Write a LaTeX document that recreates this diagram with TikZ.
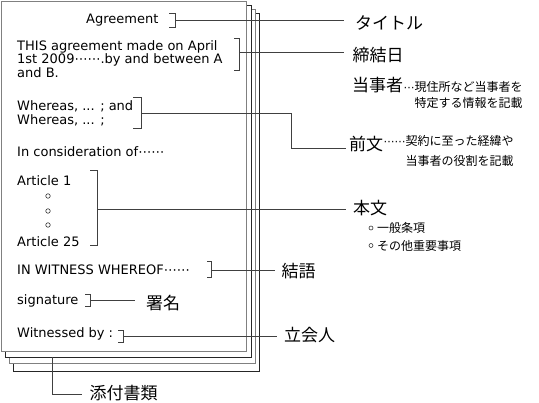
\documentclass[tikz,border=0pt]{standalone}
\usepackage{fontspec}
\setmainfont{Noto Sans CJK JP}
\newfontfamily\latinfont{DejaVu Sans}
\newcommand{\mdots}{{\latinfont ⋯⋯}}
\begin{document}
\begin{tikzpicture}[x=1pt,y=-1pt,
  pageblack/.style={draw=black!85,line width=0.8pt,fill=white},
  pagegray/.style={draw=black!50,line width=0.8pt,fill=white},
  brk/.style={draw=black!75,line width=0.9pt},
  conn/.style={draw=black!75,line width=0.8pt},
  txt/.style={anchor=base west,inner sep=0pt,font=\latinfont\fontsize{13}{15}\selectfont},
  lab/.style={anchor=west,inner sep=0pt,font=\fontsize{17}{19}\selectfont},
  small/.style={inner sep=0pt,font=\fontsize{12}{14}\selectfont},
  dot/.style={circle,draw=black!80,line width=0.6pt,inner sep=0pt,minimum size=4.5pt}]
\useasboundingbox (0,0) rectangle (539,403);
% page stack
\draw[pageblack] (13,13) rectangle (259,371);
\draw[pagegray]  (9,9) rectangle (255,363);
\draw[pageblack] (5,5) rectangle (251,357);
\draw[pagegray]  (1,1) rectangle (246,351);
% document texts
\node[txt] (agr) at (86,24) {Agreement};
\node[txt] (this1) at (17,50.5) {THIS agreement made on April};
\node[txt] (this2) at (17,64) {1st 2009\mdots.by and between A};
\node[txt] (this3) at (17,77.5) {and B.};
\node[txt] (wh1) at (17,111) {Whereas, ... ; and};
\node[txt] (wh2) at (17,124.5) {Whereas, ... ;};
\node[txt] (cons) at (17,157) {In consideration of\mdots};
\node[txt] (art1) at (17,186) {Article 1};
\node[dot] (d1) at (48,196) {};
\node[dot] (d2) at (48,211) {};
\node[dot] (d3) at (48,225) {};
\node[txt] (art25) at (17,246.5) {Article 25};
\node[txt] (inw) at (17,274.5) {IN WITNESS WHEREOF\mdots};
\node[txt] (sig) at (17,305) {signature};
\node[txt] (wit) at (17,338) {Witnessed by :};
% brackets
\draw[brk] (169,13) -- (175.5,13) -- (175.5,27) -- (169,27);
\coordinate (bT) at (175.5,20);
\draw[brk] (234,38) -- (239.5,38) -- (239.5,70) -- (234,70);
\coordinate (bD) at (239.5,52.7);
\draw[brk] (133,97) -- (141,97) -- (141,128) -- (133,128);
\coordinate (bW) at (141,113);
\draw[brk] (90,170) -- (97,170) -- (97,245) -- (90,245);
\coordinate (bA) at (97,209);
\draw[brk] (207,261) -- (211,261) -- (211,277) -- (207,277);
\coordinate (bI) at (211,270.5);
\draw[brk] (85,294) -- (90,294) -- (90,306) -- (85,306);
\coordinate (bS) at (90,300);
\draw[brk] (118,330) -- (123,330) -- (123,342) -- (118,342);
\coordinate (bV) at (123,336);
\coordinate (bP) at (52,357);
% labels
\node[lab] (title) at (355,22.5) {タイトル};
\node[lab] (date) at (352.5,55.5) {締結日};
\node[lab] (party) at (352,85) {当事者};
\node[small,anchor=base west] (pn1) at (party.base east) {{\latinfont\fontsize{11}{13}\selectfont ⋯}現住所など当事者を};
\node[small,anchor=base east] (pn2) at ([yshift=-16.5pt]pn1.base east) {特定する情報を記載};
\node[lab] (pre) at (349,144) {前文};
\node[small,anchor=base west] (qn1) at ([yshift=5pt]pre.base east) {{\latinfont\fontsize{11}{13}\selectfont ⋯⋯}契約に至った経緯や};
\node[small,anchor=base east] (qn2) at ([yshift=-20pt]qn1.base east) {当事者の役割を記載};
\node[lab] (body) at (353,208) {本文};
\node[dot,minimum size=4pt] (c1) at (371,228) {};
\node[small,anchor=west] (bn1) at (377,228) {一般条項};
\node[dot,minimum size=4pt] (c2) at (371,245.5) {};
\node[small,anchor=west] (bn2) at (377,245.5) {その他重要事項};
\node[lab] (conc) at (281.5,271) {結語};
\node[lab] (sign) at (146,303) {署名};
\node[lab] (wits) at (284,335) {立会人};
\node[lab] (att) at (89.5,393) {添付書類};
% connectors
\draw[conn] (bT) -- ([xshift=-11pt]bT -| title.west);
\draw[conn] (bD) -- ([xshift=-9pt]bD -| date.west);
\draw[conn] (bW) -- (291,113) |- ([xshift=-3pt,yshift=-4pt]pre.west);
\draw[conn] (bA) -- ([xshift=-7pt]bA -| body.west);
\draw[conn] (bI) -- ([xshift=-7pt]bI -| conc.west);
\draw[conn] (bS) -- ([xshift=-11pt]bS -| sign.west);
\draw[conn] (bV) -- ([xshift=-7pt]bV -| wits.west);
\draw[conn] (bP) |- ([xshift=-8pt,yshift=-1pt]att.west);
\end{tikzpicture}
\end{document}
